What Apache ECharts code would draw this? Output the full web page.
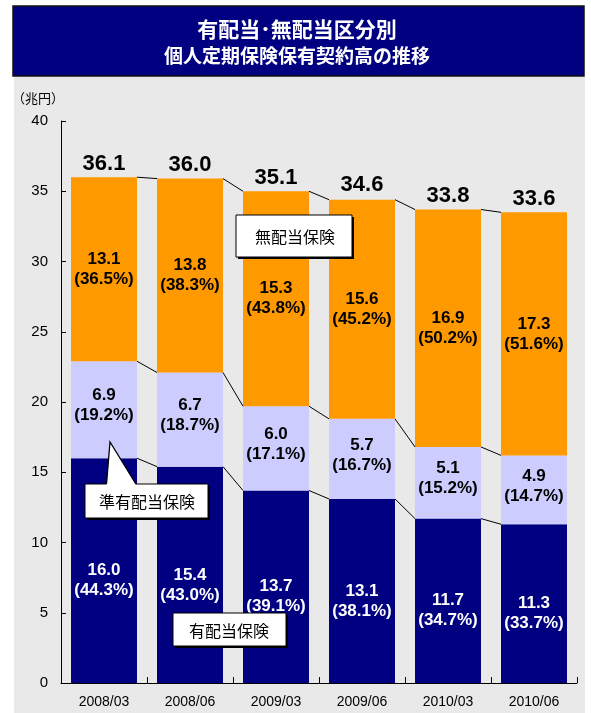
<!DOCTYPE html>
<html>
<head>
<meta charset="utf-8">
<script src="https://cdn.jsdelivr.net/npm/echarts@6/dist/echarts.min.js"></script>
<style>
  html, body { margin: 0; padding: 0; background: #fff; }
  #chart { width: 591px; height: 713px; }
</style>
</head>
<body>
<div id="chart"></div>
<script>
// Periods (fiscal year / month)
const categories = ['2008/03', '2008/06', '2009/03', '2009/06', '2010/03', '2010/06'];

// Policy amounts in force, trillion yen
const participating = [16.0, 15.4, 13.7, 13.1, 11.7, 11.3];      // 有配当保険
const semiParticipating = [6.9, 6.7, 6.0, 5.7, 5.1, 4.9];        // 準有配当保険
const nonParticipating = [13.1, 13.8, 15.3, 15.6, 16.9, 17.3];   // 無配当保険
const totals = [36.1, 36.0, 35.1, 34.6, 33.8, 33.6];

// Shares of the total, percent
const participatingPct = [44.3, 43.0, 39.1, 38.1, 34.7, 33.7];
const semiParticipatingPct = [19.2, 18.7, 17.1, 16.7, 15.2, 14.7];
const nonParticipatingPct = [36.5, 38.3, 43.8, 45.2, 50.2, 51.6];

// Y-axis ticks
const yMin = 0, yMax = 40, yStep = 5;

const FONT = '"Liberation Sans", Arial, "Noto Sans CJK JP", sans-serif';
const JP_FONT = '"Noto Sans CJK JP", "Liberation Sans", sans-serif';
const BAR_W = 66;

// Cumulative stack boundaries used by the connector lines
const level1 = participating.map(v => v);
const level2 = participating.map((v, i) => v + semiParticipating[i]);
const level3 = level2.map((v, i) => v + nonParticipating[i]);
const levels = [level1, level2, level3];

function pctLabel(values, pcts) {
  return p => values[p.dataIndex].toFixed(1) + '\n(' + pcts[p.dataIndex].toFixed(1) + '%)';
}

const chart = echarts.init(document.getElementById('chart'));

const option = {
  backgroundColor: '#ffffff',
  animation: false,
  grid: { left: 61, right: 14, top: 121, bottom: 30, containLabel: false },
  xAxis: {
    type: 'category',
    data: categories,
    axisLine: { show: true, lineStyle: { color: '#000', width: 1 } },
    axisTick: { show: true, inside: true, length: 6, alignWithLabel: false, lineStyle: { color: '#000' } },
    axisLabel: { color: '#000', fontSize: 14, fontFamily: FONT, margin: 12 }
  },
  yAxis: {
    type: 'value',
    min: yMin, max: yMax, interval: yStep,
    axisLine: { show: true, lineStyle: { color: '#000', width: 1 } },
    axisTick: { show: true, inside: true, length: 5, lineStyle: { color: '#000' } },
    axisLabel: { color: '#000', fontSize: 15, fontFamily: FONT, margin: 13 },
    splitLine: { show: false }
  },
  series: [
    {
      name: '有配当保険', type: 'bar', stack: 'total', barWidth: BAR_W,
      data: participating,
      itemStyle: { color: '#000080' },
      label: {
        show: true, position: 'inside', offset: [0, 10],
        formatter: pctLabel(participating, participatingPct),
        color: '#fff', fontSize: 17, fontWeight: 'bold', fontFamily: FONT, lineHeight: 20
      }
    },
    {
      name: '準有配当保険', type: 'bar', stack: 'total', barWidth: BAR_W,
      data: semiParticipating,
      itemStyle: { color: '#CCCCFF' },
      label: {
        show: true, position: 'inside', offset: [0, -4],
        formatter: pctLabel(semiParticipating, semiParticipatingPct),
        color: '#000', fontSize: 17, fontWeight: 'bold', fontFamily: FONT, lineHeight: 20
      }
    },
    {
      name: '無配当保険', type: 'bar', stack: 'total', barWidth: BAR_W,
      data: nonParticipating,
      itemStyle: { color: '#FF9900' },
      label: {
        show: true, position: 'inside', offset: [0, 0],
        formatter: pctLabel(nonParticipating, nonParticipatingPct),
        color: '#000', fontSize: 17, fontWeight: 'bold', fontFamily: FONT, lineHeight: 20
      }
    },
    {
      // Totals printed above each bar
      name: '合計', type: 'scatter', symbolSize: 0,
      data: totals,
      z: 5,
      itemStyle: { opacity: 1, color: '#000' },
      label: {
        show: true, position: 'top', distance: 1,
        formatter: p => totals[p.dataIndex].toFixed(1),
        color: '#000', opacity: 1, fontSize: 22, fontWeight: 'bold', fontFamily: FONT
      }
    },
    {
      // Thin lines joining the segment boundaries of neighbouring bars
      name: 'connectors', type: 'custom',
      data: categories.slice(0, -1).map((c, i) => [i, 0]),
      encode: { x: 0, y: 1 },
      z: 4,
      renderItem: (params, api) => {
        const i = api.value(0);
        const half = BAR_W / 2;
        return {
          type: 'group',
          children: levels.map(lv => {
            const a = api.coord([i, lv[i]]);
            const b = api.coord([i + 1, lv[i + 1]]);
            return {
              type: 'line',
              shape: { x1: a[0] + half, y1: a[1], x2: b[0] - half, y2: b[1] },
              style: { stroke: '#000', lineWidth: 1 }
            };
          })
        };
      }
    }
  ],
  graphic: [
    // gray panel behind the plot
    { type: 'rect', z: -10, shape: { x: 14, y: 76, width: 571, height: 637 }, style: { fill: '#E9E9E9' } },
    // title banner
    { type: 'rect', z: 10, shape: { x: 13, y: 6, width: 571, height: 70 }, style: { fill: '#000080', stroke: '#111', lineWidth: 1.5 } },
    { type: 'text', z: 11, style: { x: 297, y: 29, text: '有配当･無配当区分別', textAlign: 'center', textVerticalAlign: 'middle', fill: '#fff', font: 'bold 21px ' + JP_FONT } },
    { type: 'text', z: 11, style: { x: 297, y: 56, text: '個人定期保険保有契約高の推移', textAlign: 'center', textVerticalAlign: 'middle', fill: '#fff', font: 'bold 19px ' + JP_FONT } },
    // unit
    { type: 'text', z: 11, style: { x: 12, y: 98, text: '（兆円）', textAlign: 'left', textVerticalAlign: 'middle', fill: '#000', font: '13px ' + JP_FONT } },

    // callout: 無配当保険
    { type: 'rect', z: 20, shape: { x: 238, y: 217, width: 116, height: 42 }, style: { fill: '#000' } },
    { type: 'rect', z: 21, shape: { x: 236, y: 215, width: 116, height: 42 }, style: { fill: '#fff', stroke: '#000', lineWidth: 1 } },
    { type: 'text', z: 22, style: { x: 295, y: 237, text: '無配当保険', textAlign: 'center', textVerticalAlign: 'middle', fill: '#000', font: '16px ' + JP_FONT } },

    // callout: 準有配当保険 with pointer
    { type: 'rect', z: 20, shape: { x: 87, y: 486, width: 123, height: 34 }, style: { fill: '#000' } },
    { type: 'rect', z: 21, shape: { x: 85, y: 484, width: 123, height: 34 }, style: { fill: '#fff', stroke: '#000', lineWidth: 1 } },
    { type: 'polygon', z: 22, shape: { points: [[106.5, 485], [110, 442], [136, 485]] }, style: { fill: '#fff' } },
    { type: 'polyline', z: 23, shape: { points: [[106.5, 484], [110, 442], [136, 484]] }, style: { stroke: '#000', lineWidth: 1.3, fill: null } },
    { type: 'text', z: 24, style: { x: 147, y: 502, text: '準有配当保険', textAlign: 'center', textVerticalAlign: 'middle', fill: '#000', font: '16px ' + JP_FONT } },

    // callout: 有配当保険
    { type: 'rect', z: 20, shape: { x: 175, y: 615, width: 113, height: 33 }, style: { fill: '#000' } },
    { type: 'rect', z: 21, shape: { x: 173, y: 613, width: 113, height: 33 }, style: { fill: '#fff', stroke: '#000', lineWidth: 1 } },
    { type: 'text', z: 22, style: { x: 229, y: 631, text: '有配当保険', textAlign: 'center', textVerticalAlign: 'middle', fill: '#000', font: '16px ' + JP_FONT } }
  ]
};

chart.setOption(option);
</script>
</body>
</html>
